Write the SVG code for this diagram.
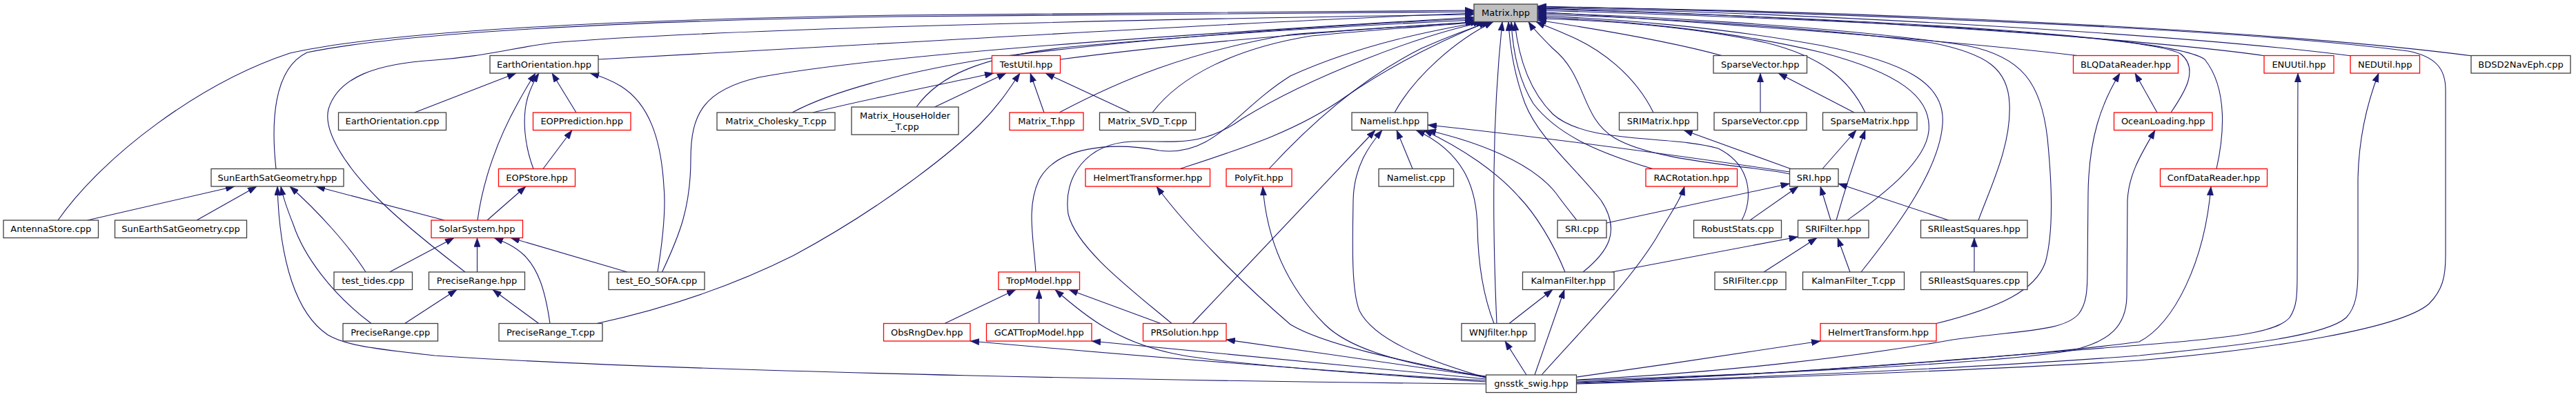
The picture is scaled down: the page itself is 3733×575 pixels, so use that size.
<svg xmlns="http://www.w3.org/2000/svg" width="3733" height="575" viewBox="0 0 3733 575">
<style>
.n rect{fill:#fff;stroke:#404040;stroke-width:1.3}
.n.r rect{stroke:#ff0000}
.n.g rect{fill:#bfbfbf}
.n text{font-family:"DejaVu Sans",sans-serif;font-size:13px;text-anchor:middle;fill:#000}
#edges path{fill:none;stroke:#191970;stroke-width:1.1;marker-end:url(#ah)}
</style>
<defs>
<marker id="ah" markerUnits="userSpaceOnUse" viewBox="0 0 13 9.4" refX="13" refY="4.7" markerWidth="13" markerHeight="9.4" orient="auto"><path d="M0,0L13,4.7L0,9.4z" fill="#191970" stroke="#191970" stroke-width="0.5"/></marker>
</defs>
<rect width="3733" height="575" fill="#fff"/>
<g id="edges">
<path d="M84,319 C150,225 290,120 420,77 C560,45 900,28 1300,22 C1700,17 2000,15 2136,15"/>
<path d="M400,244.5 C393,180 395,100 445,76 C580,48 900,30 1300,24 C1700,19 2000,17 2136,17"/>
<path d="M674,394 C650,375 590,330 550,290 C500,240 468,190 476,158 C490,112 545,92 630,87 C700,82 740,70 800,62 C1000,45 1500,30 2136,21"/>
<path d="M867,86 C1000,78 1150,70 1300,62 C1600,45 1900,28 2136,19"/>
<path d="M959.5,394 C985,340 1001,300 1001,230 C1001,165 1020,130 1100,112 C1300,75 1800,45 2136,25"/>
<path d="M1148,163 C1200,135 1300,105 1450,82 C1700,50 2000,33 2136,27"/>
<path d="M1328,155 C1360,110 1420,82 1550,68 C1800,45 2050,33 2136,29"/>
<path d="M1536.5,86 C1750,58 2000,40 2137,32"/>
<path d="M1535,163 C1620,118 1720,75 1870,50 C2000,40 2100,35 2140,31.5"/>
<path d="M1670,163 C1710,110 1790,70 1900,52 C2020,40 2110,36 2144,31.5"/>
<path d="M1501,394 C1497,340 1488,300 1505,262 C1530,212 1610,205 1680,218 C1760,228 1790,160 1870,110 C1980,60 2100,40 2148,31.5"/>
<path d="M1698,468.5 C1640,420 1560,360 1548,310 C1540,255 1575,208 1640,205 C1700,203 1740,215 1800,172 C1900,110 2060,50 2152,31.5"/>
<path d="M1710,244.5 C1800,215 1880,190 1950,140 C2030,85 2110,50 2156,31.5"/>
<path d="M1839,244.5 C1880,200 1960,120 2060,70 C2110,48 2140,38 2160,31.5"/>
<path d="M2021,163 C2050,110 2110,58 2164,31.5"/>
<path d="M2169,468.5 C2166,400 2164,320 2165,250 C2166,150 2172,80 2177,31.5"/>
<path d="M2294,394 C2330,365 2350,335 2320,290 C2280,240 2230,200 2210,150 C2195,110 2188,70 2186,31.5"/>
<path d="M2395,244.5 C2330,225 2260,200 2222,150 C2200,115 2192,70 2190,31.5"/>
<path d="M2524,319 C2540,290 2540,240 2490,215 C2420,195 2300,210 2250,165 C2215,130 2200,80 2195,31.5"/>
<path d="M2593.5,252 C2540,240 2400,235 2340,200 C2290,170 2300,110 2250,70 C2232,52 2222,42 2215,31.5"/>
<path d="M2396,163 C2370,110 2320,70 2270,50 C2252,42 2238,37 2226,31.5"/>
<path d="M2495,80.5 C2420,60 2300,40 2228,29"/>
<path d="M2703,163 C2680,115 2640,82 2560,62 C2450,38 2320,29 2228,27"/>
<path d="M2677,319 C2710,295 2790,240 2795,190 C2800,140 2750,105 2640,76 C2500,42 2330,28 2228,25"/>
<path d="M2697,394 C2740,340 2810,250 2815,180 C2820,120 2760,90 2640,66 C2500,40 2330,26 2228,23"/>
<path d="M2867,319 C2885,270 2915,210 2912,150 C2910,100 2880,78 2800,62 C2600,36 2350,24 2228,21"/>
<path d="M2806,468.5 C2900,445 2950,420 2964,380 C2978,330 2972,250 2967,200 C2958,120 2930,82 2850,66 C2650,36 2350,22 2228,19"/>
<path d="M3010,80.5 C2800,55 2400,28 2228,17"/>
<path d="M3146,163 C3165,135 3188,100 3160,78 C3120,55 2800,32 2228,15"/>
<path d="M3212,244.5 C3222,200 3230,130 3195,86 C3150,55 2800,30 2228,13"/>
<path d="M3283,81 C3100,55 2600,22 2228,12"/>
<path d="M3408,81 C3150,48 2600,18 2228,11"/>
<path d="M3583,81 C3300,44 2700,15 2228,10"/>
<path d="M2285,556 C2600,546 2900,535 3100,522 C3300,505 3480,475 3520,440 C3540,420 3544,400 3544,370 L3544,130 C3544,100 3530,82 3490,74 C3250,42 2700,20 2228,9"/>
<path d="M126.6,319 L340,270"/>
<path d="M285,319 L372,270"/>
<path d="M2153.5,556 C1800,553 1000,540 630,515 C540,505 500,500 475,485 C430,455 405,380 402,270"/>
<path d="M538,468.5 C480,425 440,370 425,325 C415,300 410,285 407,270"/>
<path d="M530,394 C505,355 460,305 420,270"/>
<path d="M644,319 L458,270"/>
<path d="M564.5,394 L658,344.5"/>
<path d="M600.7,163 L748,106"/>
<path d="M692,319 C700,260 722,200 750,150 C762,128 770,115 776,106"/>
<path d="M773,244.5 C760,210 756,170 765,140 C770,125 775,115 781,106"/>
<path d="M835,163 L800,106"/>
<path d="M953,394 C960,350 965,300 962,270 C958,200 940,150 900,125 C885,116 870,110 855,106"/>
<path d="M787,244.5 L829,188.5"/>
<path d="M706,319 L762,270"/>
<path d="M691.5,394 L691.5,344.5"/>
<path d="M797,468.5 C790,420 780,390 760,370 C745,356 730,350 716,344.5"/>
<path d="M909,394 L740,344.5"/>
<path d="M586.6,468.5 L662,419.5"/>
<path d="M780.7,468.5 L714,419.5"/>
<path d="M865,468.5 C950,450 1050,420 1150,370 C1280,300 1380,220 1420,180 C1450,150 1465,125 1478,106"/>
<path d="M1178,163 C1250,145 1350,125 1440,106"/>
<path d="M1354.5,155 L1458,106"/>
<path d="M1513,163 L1493,106"/>
<path d="M1638,163 L1515,106"/>
<path d="M2153.5,547 C2030,522 1920,500 1870,470 C1800,410 1720,330 1676,270"/>
<path d="M2153.5,545 C2050,530 1960,510 1920,470 C1860,410 1835,340 1830,270"/>
<path d="M2153.5,547 C2060,520 1990,490 1970,450 C1958,420 1960,350 1961,290 C1962,240 1985,210 2003,188.5"/>
<path d="M2047,244.5 L2024,188.5"/>
<path d="M1728,468.5 L1993,188.5"/>
<path d="M2165,468.5 C2150,430 2142,380 2141,330 C2140,270 2120,220 2052,188.5"/>
<path d="M2268,394 C2250,350 2225,310 2201,285 C2170,250 2120,215 2063,188.5"/>
<path d="M2285,319 C2270,300 2262,290 2255,280 C2220,235 2140,205 2068,188.5"/>
<path d="M2593.5,249 C2450,228 2250,200 2069,181"/>
<path d="M2595,244.5 L2440,188.5"/>
<path d="M2328,323 L2593.5,266"/>
<path d="M2536,319 L2606,270"/>
<path d="M2653,319 L2638,270"/>
<path d="M2824,319 L2664,266"/>
<path d="M2641,244.5 L2690,188.5"/>
<path d="M2661,319 C2672,280 2688,230 2703,188.5"/>
<path d="M2687,163 L2577,106"/>
<path d="M2551,163 L2551,106"/>
<path d="M2556,394 L2633,344.5"/>
<path d="M2681,394 L2663,344.5"/>
<path d="M2336,394 L2605.5,343"/>
<path d="M2861,394 L2861,344.5"/>
<path d="M2187,468.5 L2250,419.5"/>
<path d="M2224,543 L2267,419.5"/>
<path d="M2212,543 L2181,494"/>
<path d="M2234,543 C2290,480 2360,410 2400,345 C2420,310 2435,290 2441,270"/>
<path d="M2285,546 C2400,530 2550,508 2638,494"/>
<path d="M2285,550 C2500,540 2700,515 2830,492 C2930,478 2990,480 3012,455 C3024,440 3025,420 3025,390 L3026,280 C3027,200 3045,150 3072,106"/>
<path d="M2285,551 C2600,540 2900,525 3000,508 C3060,495 3081,470 3082,430 L3083,290 C3085,250 3105,220 3123,188.5"/>
<path d="M2285,553 C2600,542 2950,515 3100,495 C3150,470 3195,380 3204,270"/>
<path d="M2285,554 C2600,543 2900,515 3100,500 C3250,488 3300,480 3318,460 C3328,445 3329,430 3329,400 L3330,106"/>
<path d="M2285,555 C2600,545 2900,530 3100,515 C3250,500 3370,487 3400,460 C3414,445 3417,425 3417,390 L3417,260 C3418,200 3430,150 3447,106"/>
<path d="M3126,163 L3094,106"/>
<path d="M1369,468.5 L1472,419.5"/>
<path d="M1505.75,468.5 L1505.75,419.5"/>
<path d="M1682,468.5 L1549,419.5"/>
<path d="M2153.5,553 C1950,540 1760,525 1700,512 C1620,495 1575,460 1529,419.5"/>
<path d="M2153.5,551 C1950,540 1700,520 1406,494"/>
<path d="M2153.5,549 C2000,535 1800,515 1582,494"/>
<path d="M2153.5,546 C2050,530 1900,510 1777,492"/>
</g>
<g id="n_matrix" class="n g"><rect x="2136" y="6" width="92" height="25.5"/><text x="2182" y="23.25">Matrix.hpp</text></g>
<g id="n_earthorientation_hpp" class="n"><rect x="710" y="80.5" width="157" height="25.5"/><text x="788.5" y="97.75">EarthOrientation.hpp</text></g>
<g id="n_testutil" class="n r"><rect x="1437.5" y="80.5" width="99" height="25.5"/><text x="1487" y="97.75">TestUtil.hpp</text></g>
<g id="n_sparsevector_hpp" class="n"><rect x="2483" y="80.5" width="135.5" height="25.5"/><text x="2550.75" y="97.75">SparseVector.hpp</text></g>
<g id="n_blqdatareader" class="n r"><rect x="3004.5" y="80.5" width="152" height="25.5"/><text x="3080.5" y="97.75">BLQDataReader.hpp</text></g>
<g id="n_enuutil" class="n r"><rect x="3281" y="80.5" width="101" height="25.5"/><text x="3331.5" y="97.75">ENUUtil.hpp</text></g>
<g id="n_nedutil" class="n r"><rect x="3406" y="80.5" width="100.5" height="25.5"/><text x="3456.25" y="97.75">NEDUtil.hpp</text></g>
<g id="n_bdsd2naveph" class="n"><rect x="3581" y="80.5" width="144" height="25.5"/><text x="3653" y="97.75">BDSD2NavEph.cpp</text></g>
<g id="n_earthorientation_cpp" class="n"><rect x="490.5" y="163" width="156" height="25.5"/><text x="568.5" y="180.25">EarthOrientation.cpp</text></g>
<g id="n_eopprediction" class="n r"><rect x="772.5" y="163" width="141.5" height="25.5"/><text x="843.25" y="180.25">EOPPrediction.hpp</text></g>
<g id="n_matrix_cholesky" class="n"><rect x="1039" y="163" width="171" height="25.5"/><text x="1124.5" y="180.25">Matrix_Cholesky_T.cpp</text></g>
<g id="n_matrix_householder" class="n"><rect x="1234" y="155" width="155" height="40"/><text x="1311.5" y="171.5">Matrix_HouseHolder</text><text x="1311.5" y="187.5">_T.cpp</text></g>
<g id="n_matrix_t" class="n r"><rect x="1463" y="163" width="107" height="25.5"/><text x="1516.5" y="180.25">Matrix_T.hpp</text></g>
<g id="n_matrix_svd" class="n"><rect x="1593.5" y="163" width="139" height="25.5"/><text x="1663" y="180.25">Matrix_SVD_T.cpp</text></g>
<g id="n_namelist_hpp" class="n"><rect x="1959" y="163" width="110" height="25.5"/><text x="2014" y="180.25">Namelist.hpp</text></g>
<g id="n_srimatrix" class="n"><rect x="2346.5" y="163" width="113.5" height="25.5"/><text x="2403.25" y="180.25">SRIMatrix.hpp</text></g>
<g id="n_sparsevector_cpp" class="n"><rect x="2484" y="163" width="134" height="25.5"/><text x="2551" y="180.25">SparseVector.cpp</text></g>
<g id="n_sparsematrix" class="n"><rect x="2641.5" y="163" width="136.5" height="25.5"/><text x="2709.75" y="180.25">SparseMatrix.hpp</text></g>
<g id="n_oceanloading" class="n r"><rect x="3063.5" y="163" width="142.5" height="25.5"/><text x="3134.75" y="180.25">OceanLoading.hpp</text></g>
<g id="n_sunearthsatgeometry_hpp" class="n"><rect x="306" y="244.5" width="192" height="25.5"/><text x="402" y="261.75">SunEarthSatGeometry.hpp</text></g>
<g id="n_eopstore" class="n r"><rect x="722.5" y="244.5" width="111" height="25.5"/><text x="778" y="261.75">EOPStore.hpp</text></g>
<g id="n_helmerttransformer" class="n r"><rect x="1573" y="244.5" width="180.5" height="25.5"/><text x="1663.25" y="261.75">HelmertTransformer.hpp</text></g>
<g id="n_polyfit" class="n r"><rect x="1777" y="244.5" width="95" height="25.5"/><text x="1824.5" y="261.75">PolyFit.hpp</text></g>
<g id="n_namelist_cpp" class="n"><rect x="1998" y="244.5" width="108.5" height="25.5"/><text x="2052.25" y="261.75">Namelist.cpp</text></g>
<g id="n_racrotation" class="n r"><rect x="2385" y="244.5" width="132.5" height="25.5"/><text x="2451.25" y="261.75">RACRotation.hpp</text></g>
<g id="n_sri_hpp" class="n"><rect x="2593.5" y="244.5" width="70.5" height="25.5"/><text x="2628.75" y="261.75">SRI.hpp</text></g>
<g id="n_confdatareader" class="n r"><rect x="3130.5" y="244.5" width="155" height="25.5"/><text x="3208" y="261.75">ConfDataReader.hpp</text></g>
<g id="n_antennastore" class="n"><rect x="5" y="319" width="137.5" height="25.5"/><text x="73.75" y="336.25">AntennaStore.cpp</text></g>
<g id="n_sunearthsatgeometry_cpp" class="n"><rect x="166.5" y="319" width="191" height="25.5"/><text x="262" y="336.25">SunEarthSatGeometry.cpp</text></g>
<g id="n_solarsystem" class="n r"><rect x="625" y="319" width="132.5" height="25.5"/><text x="691.25" y="336.25">SolarSystem.hpp</text></g>
<g id="n_sri_cpp" class="n"><rect x="2257" y="319" width="71" height="25.5"/><text x="2292.5" y="336.25">SRI.cpp</text></g>
<g id="n_robuststats" class="n"><rect x="2454.5" y="319" width="127" height="25.5"/><text x="2518" y="336.25">RobustStats.cpp</text></g>
<g id="n_srifilter_hpp" class="n"><rect x="2605.5" y="319" width="102.5" height="25.5"/><text x="2656.75" y="336.25">SRIFilter.hpp</text></g>
<g id="n_srileastsquares_hpp" class="n"><rect x="2783.5" y="319" width="154.5" height="25.5"/><text x="2860.75" y="336.25">SRIleastSquares.hpp</text></g>
<g id="n_test_tides" class="n"><rect x="484" y="394" width="113.5" height="25.5"/><text x="540.75" y="411.25">test_tides.cpp</text></g>
<g id="n_preciserange_hpp" class="n"><rect x="621.5" y="394" width="139" height="25.5"/><text x="691" y="411.25">PreciseRange.hpp</text></g>
<g id="n_test_eo_sofa" class="n"><rect x="882" y="394" width="139" height="25.5"/><text x="951.5" y="411.25">test_EO_SOFA.cpp</text></g>
<g id="n_tropmodel" class="n r"><rect x="1447" y="394" width="117.5" height="25.5"/><text x="1505.75" y="411.25">TropModel.hpp</text></g>
<g id="n_kalmanfilter_hpp" class="n"><rect x="2206.5" y="394" width="132.5" height="25.5"/><text x="2272.75" y="411.25">KalmanFilter.hpp</text></g>
<g id="n_srifilter_cpp" class="n"><rect x="2485" y="394" width="103" height="25.5"/><text x="2536.5" y="411.25">SRIFilter.cpp</text></g>
<g id="n_kalmanfilter_t" class="n"><rect x="2612.5" y="394" width="147" height="25.5"/><text x="2686" y="411.25">KalmanFilter_T.cpp</text></g>
<g id="n_srileastsquares_cpp" class="n"><rect x="2783.5" y="394" width="154.5" height="25.5"/><text x="2860.75" y="411.25">SRIleastSquares.cpp</text></g>
<g id="n_preciserange_cpp" class="n"><rect x="497" y="468.5" width="137.5" height="25.5"/><text x="565.75" y="485.75">PreciseRange.cpp</text></g>
<g id="n_preciserange_t" class="n"><rect x="723" y="468.5" width="150" height="25.5"/><text x="798" y="485.75">PreciseRange_T.cpp</text></g>
<g id="n_obsrngdev" class="n r"><rect x="1280.5" y="468.5" width="125.5" height="25.5"/><text x="1343.25" y="485.75">ObsRngDev.hpp</text></g>
<g id="n_gcattropmodel" class="n r"><rect x="1429.5" y="468.5" width="152.5" height="25.5"/><text x="1505.75" y="485.75">GCATTropModel.hpp</text></g>
<g id="n_prsolution" class="n r"><rect x="1656.5" y="468.5" width="120.5" height="25.5"/><text x="1716.75" y="485.75">PRSolution.hpp</text></g>
<g id="n_wnjfilter" class="n"><rect x="2118" y="468.5" width="106.5" height="25.5"/><text x="2171.25" y="485.75">WNJfilter.hpp</text></g>
<g id="n_helmerttransform" class="n r"><rect x="2638" y="468.5" width="168" height="25.5"/><text x="2722" y="485.75">HelmertTransform.hpp</text></g>
<g id="n_gnsstk_swig" class="n"><rect x="2153.5" y="543" width="131" height="25.5"/><text x="2219" y="560.25">gnsstk_swig.hpp</text></g>
</svg>
